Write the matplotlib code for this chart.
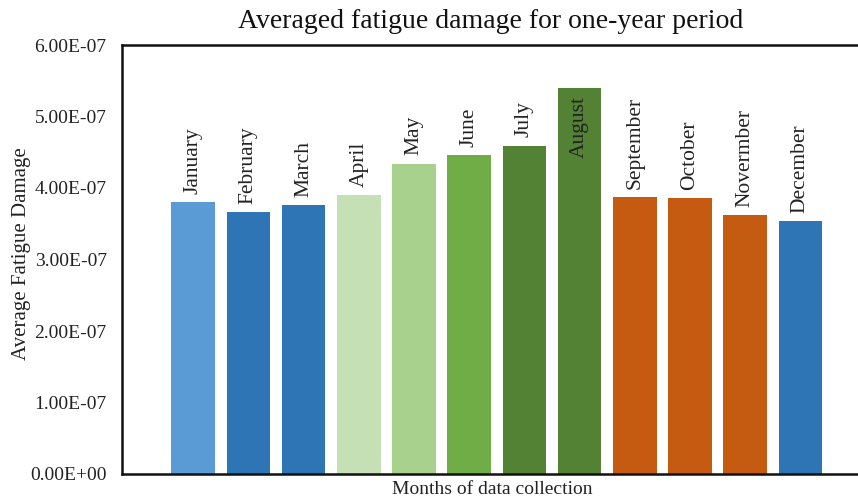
import matplotlib
matplotlib.use("Agg")
import matplotlib.pyplot as plt
from matplotlib.ticker import FixedLocator

plt.rcParams['font.family'] = ['Liberation Serif', 'DejaVu Serif']

months = ["January", "February", "March", "April", "May", "June", "July",
          "August", "September", "October", "Novermber", "December"]
damage = [3.80e-7, 3.66e-7, 3.76e-7, 3.90e-7, 4.34e-7, 4.46e-7, 4.59e-7,
          5.40e-7, 3.87e-7, 3.86e-7, 3.62e-7, 3.54e-7]
colors = ["#5B9BD5", "#2E75B6", "#2E75B6", "#C5E0B4", "#A9D18E", "#70AD47",
          "#548235", "#548235", "#C55A11", "#C55A11", "#C55A11", "#2E75B6"]
yticks = [0, 1e-7, 2e-7, 3e-7, 4e-7, 5e-7, 6e-7]
ytick_labels = ["0.00E+00", "1.00E-07", "2.00E-07", "3.00E-07", "4.00E-07",
                "5.00E-07", "6.00E-07"]

W, H = 858, 503
fig = plt.figure(figsize=(W / 100, H / 100), dpi=100)
ax = fig.add_axes([122 / W, (H - 474) / H, 1 - 122 / W + 0.01, (474 - 45) / H])

x = list(range(len(months)))
ax.bar(x, damage, width=0.79, color=colors, zorder=2)

ax.set_ylim(0, 6e-7)
ax.set_xlim(-1.29, 12.2)
ax.yaxis.set_major_locator(FixedLocator(yticks))
ax.set_yticklabels(ytick_labels, fontsize=14, color="#222222")
ax.set_xticks([])
ax.tick_params(axis='y', length=0, pad=11)

for s in ["left", "top", "bottom"]:
    ax.spines[s].set_linewidth(1.8)
    ax.spines[s].set_color("#111111")
ax.spines["right"].set_visible(False)

for i, (m, v) in enumerate(zip(months, damage)):
    if m == "August":
        ax.annotate(m, (i, v), xytext=(0, -6), textcoords="offset points",
                    rotation=90, ha="center", va="top", fontsize=15.5,
                    color="#222222")
    else:
        ax.annotate(m, (i, v), xytext=(0, 6), textcoords="offset points",
                    rotation=90, ha="center", va="bottom", fontsize=15.5,
                    color="#222222")

fig.text(491 / W, 1 - 22 / H, "Averaged fatigue damage for one-year period",
         ha="center", va="center", fontsize=20, color="#111111")
fig.text(22 / W, 1 - 254 / H, "Average Fatigue Damage", rotation=90,
         ha="center", va="center", fontsize=15, color="#222222")
fig.text(492 / W, 1 - 490 / H, "Months of data collection",
         ha="center", va="center", fontsize=14, color="#222222")

fig.savefig("out.png", dpi=100)
